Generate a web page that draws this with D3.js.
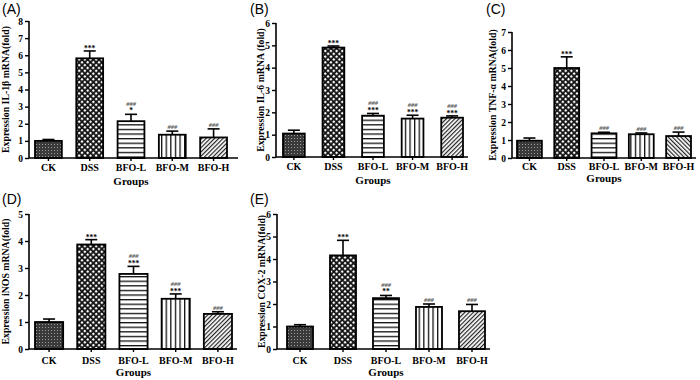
<!DOCTYPE html>
<html>
<head>
<meta charset="utf-8">
<script src="https://cdn.jsdelivr.net/npm/d3@7"></script>
<style>
  html, body { margin: 0; padding: 0; background: #fff; }
  svg { display: block; }
</style>
</head>
<body>
<svg id="chart" width="700" height="380"></svg>
<script>
// groups shared by all five panels
const groups = ['CK', 'DSS', 'BFO-L', 'BFO-M', 'BFO-H']

// (A) IL-1β
const il1bMean = [1.0, 5.82, 2.15, 1.36, 1.2]
const il1bErr = [0.08, 0.43, 0.4, 0.21, 0.5]
const il1bStar = ['', '***', '*', '', '']
const il1bHash = ['', '', '###', '###', '###']

// (B) IL-6
const il6Mean = [1.05, 4.9, 1.85, 1.72, 1.76]
const il6Err = [0.15, 0.07, 0.1, 0.15, 0.08]
const il6Star = ['', '***', '***', '***', '***']
const il6Hash = ['', '', '###', '###', '###']

// (C) TNF-α
const tnfMean = [0.96, 5.0, 1.37, 1.32, 1.22]
const tnfErr = [0.15, 0.62, 0.06, 0.07, 0.22]
const tnfStar = ['', '***', '', '', '']
const tnfHash = ['', '', '###', '###', '###']

// (D) iNOS
const inosMean = [1.0, 3.87, 2.78, 1.86, 1.3]
const inosErr = [0.11, 0.18, 0.28, 0.18, 0.08]
const inosStar = ['', '***', '***', '***', '']
const inosHash = ['', '', '###', '###', '###']

// (E) COX-2
const coxMean = [1.0, 4.16, 2.26, 1.87, 1.68]
const coxErr = [0.08, 0.67, 0.12, 0.13, 0.3]
const coxStar = ['', '***', '**', '', '']
const coxHash = ['', '', '###', '###', '###']

const panels = [
  { tag: '(A)', title: 'Expression IL-1β mRNA(fold)', mean: il1bMean, err: il1bErr, star: il1bStar, hash: il1bHash,
    yMax: 8, axisX: 29, axisEnd: 238, bars: [35, 227], inner: 0.35, yTop: 21, yBottom: 158,
    tagX: 2, tagY: 13.5, titleX: 9, catY: 171, groupsY: 185, hatchAngle: 45 },
  { tag: '(B)', title: 'Expression IL-6 mRNA (fold)', mean: il6Mean, err: il6Err, star: il6Star, hash: il6Hash,
    yMax: 6, axisX: 276, axisEnd: 468, bars: [283, 463], inner: 0.45, yTop: 23, yBottom: 157,
    tagX: 250, tagY: 14, titleX: 264, catY: 170, groupsY: 184, hatchAngle: 45 },
  { tag: '(C)', title: 'Expression TNF-α mRNA(fold)', mean: tnfMean, err: tnfErr, star: tnfStar, hash: tnfHash,
    yMax: 7, axisX: 512, axisEnd: 696, bars: [517, 691], inner: 0.333, yTop: 32, yBottom: 158,
    tagX: 486, tagY: 14, titleX: 496, catY: 170, groupsY: 182, hatchAngle: -45 },
  { tag: '(D)', title: 'Expression iNOS mRNA(fold)', mean: inosMean, err: inosErr, star: inosStar, hash: inosHash,
    yMax: 5, axisX: 29, axisEnd: 237, bars: [35, 232], inner: 0.333, yTop: 214, yBottom: 349,
    tagX: 2, tagY: 204, titleX: 9, catY: 364, groupsY: 376, hatchAngle: 45 },
  { tag: '(E)', title: 'Expression COX-2 mRNA(fold)', mean: coxMean, err: coxErr, star: coxStar, hash: coxHash,
    yMax: 6, axisX: 277, axisEnd: 490, bars: [287, 485], inner: 0.395, yTop: 214, yBottom: 349,
    tagX: 250, tagY: 204, titleX: 265, catY: 364, groupsY: 376, hatchAngle: 45 }
]

const svg = d3.select('#chart')
const defs = svg.append('defs')
const serif = "'Liberation Serif', 'Times New Roman', serif"
const sans = "'Liberation Sans', Arial, sans-serif"

// fill patterns, one per group
const ck = defs.append('pattern').attr('id', 'pat-CK')
  .attr('width', 3).attr('height', 3).attr('patternUnits', 'userSpaceOnUse')
ck.append('rect').attr('width', 3).attr('height', 3).attr('fill', '#3a3a3a')
ck.append('rect').attr('width', 1).attr('height', 1).attr('fill', '#9a9a9a')

const dss = defs.append('pattern').attr('id', 'pat-DSS')
  .attr('width', 4).attr('height', 4).attr('patternUnits', 'userSpaceOnUse')
  .attr('patternTransform', 'rotate(45)')
dss.append('rect').attr('width', 4).attr('height', 4).attr('fill', '#111')
dss.append('rect').attr('x', 1).attr('y', 1).attr('width', 2.2).attr('height', 2.2).attr('fill', '#fff')

const hl = defs.append('pattern').attr('id', 'pat-BFO-L')
  .attr('width', 6).attr('height', 4.6).attr('patternUnits', 'userSpaceOnUse')
hl.append('rect').attr('width', 6).attr('height', 4.6).attr('fill', '#fff')
hl.append('rect').attr('y', 0).attr('width', 6).attr('height', 1.3).attr('fill', '#111')

const vm = defs.append('pattern').attr('id', 'pat-BFO-M')
  .attr('width', 4.6).attr('height', 6).attr('patternUnits', 'userSpaceOnUse')
vm.append('rect').attr('width', 4.6).attr('height', 6).attr('fill', '#fff')
vm.append('rect').attr('x', 0).attr('width', 1.3).attr('height', 6).attr('fill', '#111')

;[45, -45].forEach(a => {
  const p = defs.append('pattern').attr('id', `pat-BFO-H${a}`)
    .attr('width', 3).attr('height', 6).attr('patternUnits', 'userSpaceOnUse')
    .attr('patternTransform', `rotate(${a})`)
  p.append('rect').attr('width', 3).attr('height', 6).attr('fill', '#fff')
  p.append('rect').attr('width', 1.2).attr('height', 6).attr('fill', '#222')
})

function fillFor(g, p) {
  if (g === 'BFO-H') return `url(#pat-BFO-H${p.hatchAngle})`
  return `url(#pat-${g})`
}

function drawPanel(p) {
  const g = svg.append('g')

  const x = d3.scaleBand()
    .domain(groups)
    .range(p.bars)
    .paddingInner(p.inner)
    .paddingOuter(0)

  const y = d3.scaleLinear()
    .domain([0, p.yMax])
    .range([p.yBottom, p.yTop])

  // bars
  g.selectAll('rect.bar')
    .data(groups)
    .enter().append('rect')
    .attr('class', 'bar')
    .attr('x', d => x(d))
    .attr('y', (d, i) => y(p.mean[i]))
    .attr('width', x.bandwidth())
    .attr('height', (d, i) => y(0) - y(p.mean[i]))
    .attr('fill', d => fillFor(d, p))
    .attr('stroke', '#000')
    .attr('stroke-width', 1.8)

  // upper error bars
  const eb = g.selectAll('g.err')
    .data(groups)
    .enter().append('g')
    .attr('class', 'err')
    .attr('stroke', '#000')
    .attr('stroke-width', 1.6)
  eb.append('line')
    .attr('x1', d => x(d) + x.bandwidth() / 2)
    .attr('x2', d => x(d) + x.bandwidth() / 2)
    .attr('y1', (d, i) => y(p.mean[i]))
    .attr('y2', (d, i) => y(p.mean[i] + p.err[i]))
  eb.append('line')
    .attr('x1', d => x(d) + x.bandwidth() / 2 - 6)
    .attr('x2', d => x(d) + x.bandwidth() / 2 + 6)
    .attr('y1', (d, i) => y(p.mean[i] + p.err[i]))
    .attr('y2', (d, i) => y(p.mean[i] + p.err[i]))

  // significance marks
  groups.forEach((d, i) => {
    const cx = x(d) + x.bandwidth() / 2
    let ty = y(p.mean[i] + p.err[i]) - 2
    if (p.star[i]) {
      g.append('text')
        .attr('x', cx).attr('y', ty + (p.star[i].length < 3 ? 1 : 2))
        .attr('text-anchor', 'middle')
        .attr('font-family', serif).attr('font-weight', 'bold')
        .attr('font-size', 7.5).attr('fill', '#000')
        .text(p.star[i])
      ty -= 6
    }
    if (p.hash[i]) {
      g.append('text')
        .attr('x', cx).attr('y', ty)
        .attr('text-anchor', 'middle')
        .attr('font-family', serif).attr('font-style', 'italic').attr('font-weight', 'bold')
        .attr('font-size', 6.5).attr('fill', '#555')
        .text(p.hash[i])
    }
  })

  // y axis
  const yAxis = g.append('g')
    .attr('transform', `translate(${p.axisX},0)`)
    .call(d3.axisLeft(y).ticks(p.yMax).tickSize(4).tickPadding(2).tickFormat(d3.format('d')))
  yAxis.select('.domain').attr('stroke', '#000').attr('stroke-width', 1.6)
    .attr('d', `M0,${p.yTop}V${p.yBottom}`)
  yAxis.selectAll('.tick line').attr('stroke', '#000').attr('stroke-width', 1.4)
  yAxis.selectAll('.tick text')
    .attr('font-family', serif).attr('font-weight', 'bold')
    .attr('font-size', 9.5).attr('fill', '#000')

  // x axis baseline and small ticks at the group centres
  g.append('line')
    .attr('x1', p.axisX).attr('x2', p.axisEnd)
    .attr('y1', p.yBottom).attr('y2', p.yBottom)
    .attr('stroke', '#000').attr('stroke-width', 1.6)
  g.selectAll('line.xt')
    .data(groups)
    .enter().append('line')
    .attr('x1', d => x(d) + x.bandwidth() / 2)
    .attr('x2', d => x(d) + x.bandwidth() / 2)
    .attr('y1', p.yBottom).attr('y2', p.yBottom + 3)
    .attr('stroke', '#000').attr('stroke-width', 1.4)

  g.selectAll('text.cat')
    .data(groups)
    .enter().append('text')
    .attr('x', d => x(d) + x.bandwidth() / 2)
    .attr('y', p.catY)
    .attr('text-anchor', 'middle')
    .attr('font-family', serif).attr('font-weight', 'bold')
    .attr('font-size', 10).attr('fill', '#000')
    .text(d => d)

  g.append('text')
    .attr('x', (p.bars[0] + p.bars[1]) / 2)
    .attr('y', p.groupsY)
    .attr('text-anchor', 'middle')
    .attr('font-family', serif).attr('font-weight', 'bold')
    .attr('font-size', 11).attr('fill', '#000')
    .text('Groups')

  g.append('text')
    .attr('transform', `translate(${p.titleX},${(p.yTop + p.yBottom) / 2}) rotate(-90)`)
    .attr('text-anchor', 'middle')
    .attr('font-family', serif).attr('font-weight', 'bold')
    .attr('font-size', 9.8).attr('fill', '#000')
    .text(p.title)

  g.append('text')
    .attr('x', p.tagX).attr('y', p.tagY)
    .attr('font-family', sans)
    .attr('font-size', 14).attr('fill', '#000')
    .text(p.tag)
}

panels.forEach(drawPanel)
</script>
</body>
</html>
